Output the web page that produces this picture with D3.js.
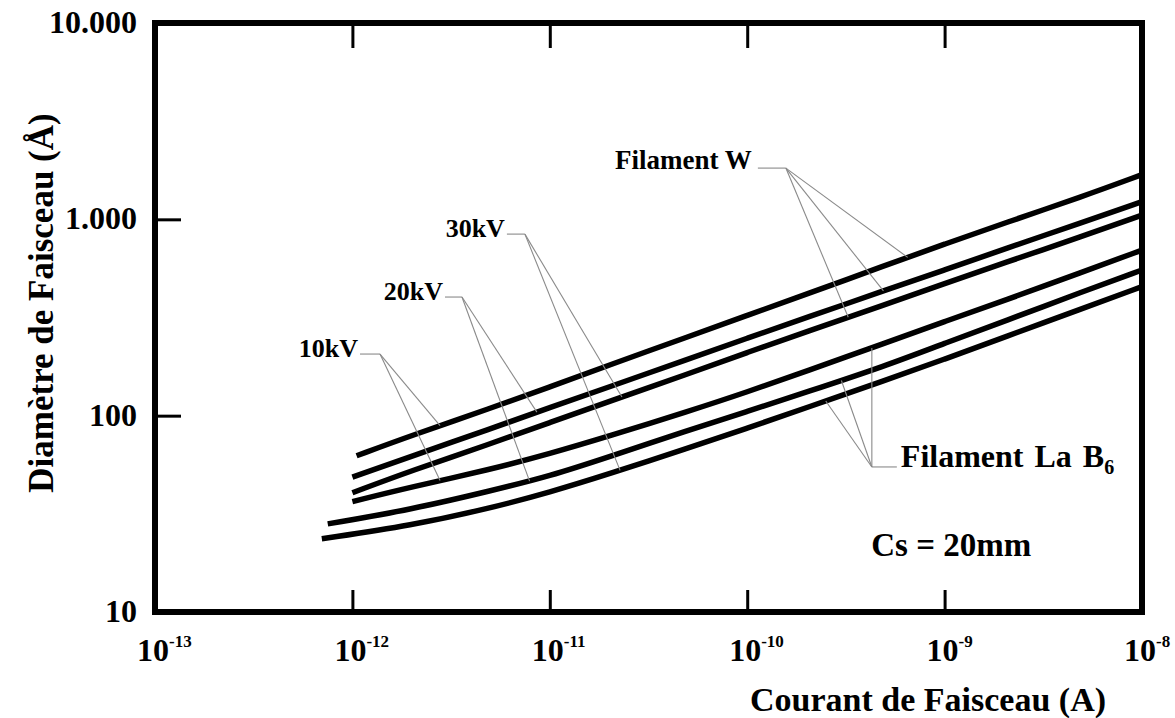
<!DOCTYPE html>
<html>
<head>
<meta charset="utf-8">
<script src="https://cdn.jsdelivr.net/npm/d3@7"></script>
<style>
  body { margin: 0; background: #fff; }
  svg { display: block; font-family: "Liberation Serif", "Times New Roman", serif; font-weight: bold; }
</style>
</head>
<body>
<svg width="1175" height="718"></svg>
<script>
// beam current (A), shared points after each curve's first point
var current = [2e-12, 5e-12, 1e-11, 2e-11, 5e-11, 1e-10, 2e-10, 5e-10, 1e-9, 2e-9, 5e-9, 1e-8];
// first point of each curve (W 10/20/30kV, LaB6 10/20/30kV)
var startCurrent = [1.05e-12, 1e-12, 1e-12, 1e-12, 7.5e-13, 7e-13];

// beam diameter (Å)
var w10kV   = [62.5, 79.4, 109, 140, 181, 252, 324, 416, 582, 748, 955, 1307, 1690];
var w20kV   = [48.6, 62.2, 85.7, 110, 140, 194, 248, 316, 435, 552, 705, 966, 1230];
var w30kV   = [40.5, 52.6, 71.8, 92.3, 118, 163, 210, 268, 368, 470, 600, 820, 1050];
var lab10kV = [36.5, 43.4, 53.2, 64, 78.7, 105, 132, 169, 234, 302, 385, 540, 697];
var lab20kV = [28.1, 33.3, 41.4, 49.2, 61.8, 84.1, 105, 132, 179, 234, 302, 428, 552];
var lab30kV = [23.6, 27.6, 33.8, 40.7, 50.5, 68.2, 86.3, 110, 151, 194, 251, 352, 454];

var xTickValues = [1e-13, 1e-12, 1e-11, 1e-10, 1e-9, 1e-8];
var xTickExp = ["-13", "-12", "-11", "-10", "-9", "-8"];
var yTickValues = [10, 100, 1000, 10000];
var yTickLabels = ["10", "100", "1.000", "10.000"];

// annotations: label, anchor (current, diameter), target currents on curves
var voltageLabels = ["10kV", "20kV", "30kV"];
var voltageAnchor = [[1.38e-12, 206], [3.59e-12, 402], [7.48e-12, 841]];
var voltageTargets = [[2.78e-12, 2.78e-12], [8.6e-12, 7.9e-12], [2.32e-11, 2.27e-11]];
var wAnchor = [1.57e-10, 1824];
var wTargets = [6.5e-10, 4.9e-10, 3.25e-10];
var labAnchor = [4.28e-10, 54.8];
var labTargets = [4.28e-10, 3.0e-10, 2.5e-10];

var series = [w10kV, w20kV, w30kV, lab10kV, lab20kV, lab30kV].map(function(vals, i) {
  return vals.map(function(v, j) {
    return [j === 0 ? startCurrent[i] : current[j - 1], v];
  });
});

var svg = d3.select("svg");

var x = d3.scaleLog().domain([1e-13, 1e-8]).range([155, 1142]);
var y = d3.scaleLog().domain([10, 10000]).range([612, 23]);

// value of a curve at a given current (log-log interpolation)
function onCurve(pts, I) {
  var lx = Math.log10(I);
  for (var k = 0; k < pts.length - 1; k++) {
    var a = Math.log10(pts[k][0]), b = Math.log10(pts[k + 1][0]);
    if (lx >= a && lx <= b) {
      var t = (lx - a) / (b - a);
      return Math.pow(10, Math.log10(pts[k][1]) * (1 - t) + Math.log10(pts[k + 1][1]) * t);
    }
  }
  return pts[pts.length - 1][1];
}

// ticks (inward)
var inner = [1e-12, 1e-11, 1e-10, 1e-9];
svg.append("g")
  .attr("transform", "translate(0," + y(10) + ")")
  .call(d3.axisBottom(x).tickValues(inner).tickSize(-22).tickFormat(""))
  .call(function(g) { g.select(".domain").remove(); });
svg.append("g")
  .attr("transform", "translate(0," + y(10000) + ")")
  .call(d3.axisTop(x).tickValues(inner).tickSize(-25).tickFormat(""))
  .call(function(g) { g.select(".domain").remove(); });
svg.append("g")
  .attr("transform", "translate(" + x(1e-13) + ",0)")
  .call(d3.axisLeft(y).tickValues([100, 1000]).tickSize(-26).tickFormat(""))
  .call(function(g) { g.select(".domain").remove(); });
svg.selectAll(".tick line").attr("stroke", "#000").attr("stroke-width", 3);

// frame
svg.append("rect")
  .attr("x", x(1e-13)).attr("y", y(10000))
  .attr("width", x(1e-8) - x(1e-13))
  .attr("height", y(10) - y(10000))
  .attr("fill", "none").attr("stroke", "#000").attr("stroke-width", 6);

// x tick labels
var xl = svg.append("g").selectAll("text")
  .data(xTickValues).enter().append("text")
  .attr("x", function(d) { return x(d) - 18; })
  .attr("y", 661)
  .attr("font-size", 32);
xl.append("tspan").text("10");
xl.append("tspan").attr("font-size", 17).attr("dy", -14)
  .text(function(d, i) { return xTickExp[i]; });

// y tick labels
svg.append("g").selectAll("text")
  .data(yTickValues).enter().append("text")
  .attr("x", 137)
  .attr("y", function(d) { return y(d) + 10; })
  .attr("text-anchor", "end")
  .attr("font-size", 32)
  .text(function(d, i) { return yTickLabels[i]; });

// axis titles
svg.append("text")
  .attr("transform", "translate(53,303) rotate(-90)")
  .attr("text-anchor", "middle")
  .attr("font-size", 35)
  .text("Diamètre de Faisceau (Å)");
svg.append("text")
  .attr("x", 928).attr("y", 711)
  .attr("text-anchor", "middle")
  .attr("font-size", 34)
  .text("Courant de Faisceau (A)");

// curves
var line = d3.line()
  .x(function(d) { return x(d[0]); })
  .y(function(d) { return y(d[1]); })
  .curve(d3.curveBasis);

svg.append("g").selectAll("path")
  .data(series).enter().append("path")
  .attr("d", line)
  .attr("fill", "none")
  .attr("stroke", "#000")
  .attr("stroke-width", 5.5);

// leader lines and labels
var leaders = svg.append("g")
  .attr("fill", "none").attr("stroke", "#8a8a8a").attr("stroke-width", 1.1);

function leader(anchor, hlen, targets, curves) {
  var ax = x(anchor[0]), ay = y(anchor[1]);
  leaders.append("line")
    .attr("x1", ax - (hlen > 0 ? hlen : 0)).attr("x2", ax + (hlen < 0 ? -hlen : 0))
    .attr("y1", ay).attr("y2", ay);
  targets.forEach(function(I, k) {
    var pts = series[curves[k]];
    leaders.append("line")
      .attr("x1", ax).attr("y1", ay)
      .attr("x2", x(I)).attr("y2", y(onCurve(pts, I)));
  });
}

voltageLabels.forEach(function(lbl, i) {
  var hl = [20, 17, 18][i];
  leader(voltageAnchor[i], hl, voltageTargets[i], [i, i + 3]);
  svg.append("text")
    .attr("x", x(voltageAnchor[i][0]) - hl - 2)
    .attr("y", y(voltageAnchor[i][1]) + 3)
    .attr("text-anchor", "end")
    .attr("font-size", 26)
    .text(lbl);
});

leader(wAnchor, 28, wTargets, [0, 1, 2]);
svg.append("text")
  .attr("x", x(wAnchor[0]) - 34)
  .attr("y", y(wAnchor[1]) + 1)
  .attr("text-anchor", "end")
  .attr("font-size", 27)
  .text("Filament W");

leader(labAnchor, -25, labTargets, [3, 4, 5]);
var lt = svg.append("text")
  .attr("x", x(labAnchor[0]) + 29)
  .attr("y", y(labAnchor[1]))
  .attr("font-size", 32)
  .attr("word-spacing", 3);
lt.append("tspan").text("Filament La B");
lt.append("tspan").attr("font-size", 20).attr("dy", 7).text("6");

svg.append("text")
  .attr("x", x(1.08e-9)).attr("y", y(19.3))
  .attr("text-anchor", "middle")
  .attr("font-size", 33)
  .text("Cs = 20mm");
</script>
</body>
</html>
